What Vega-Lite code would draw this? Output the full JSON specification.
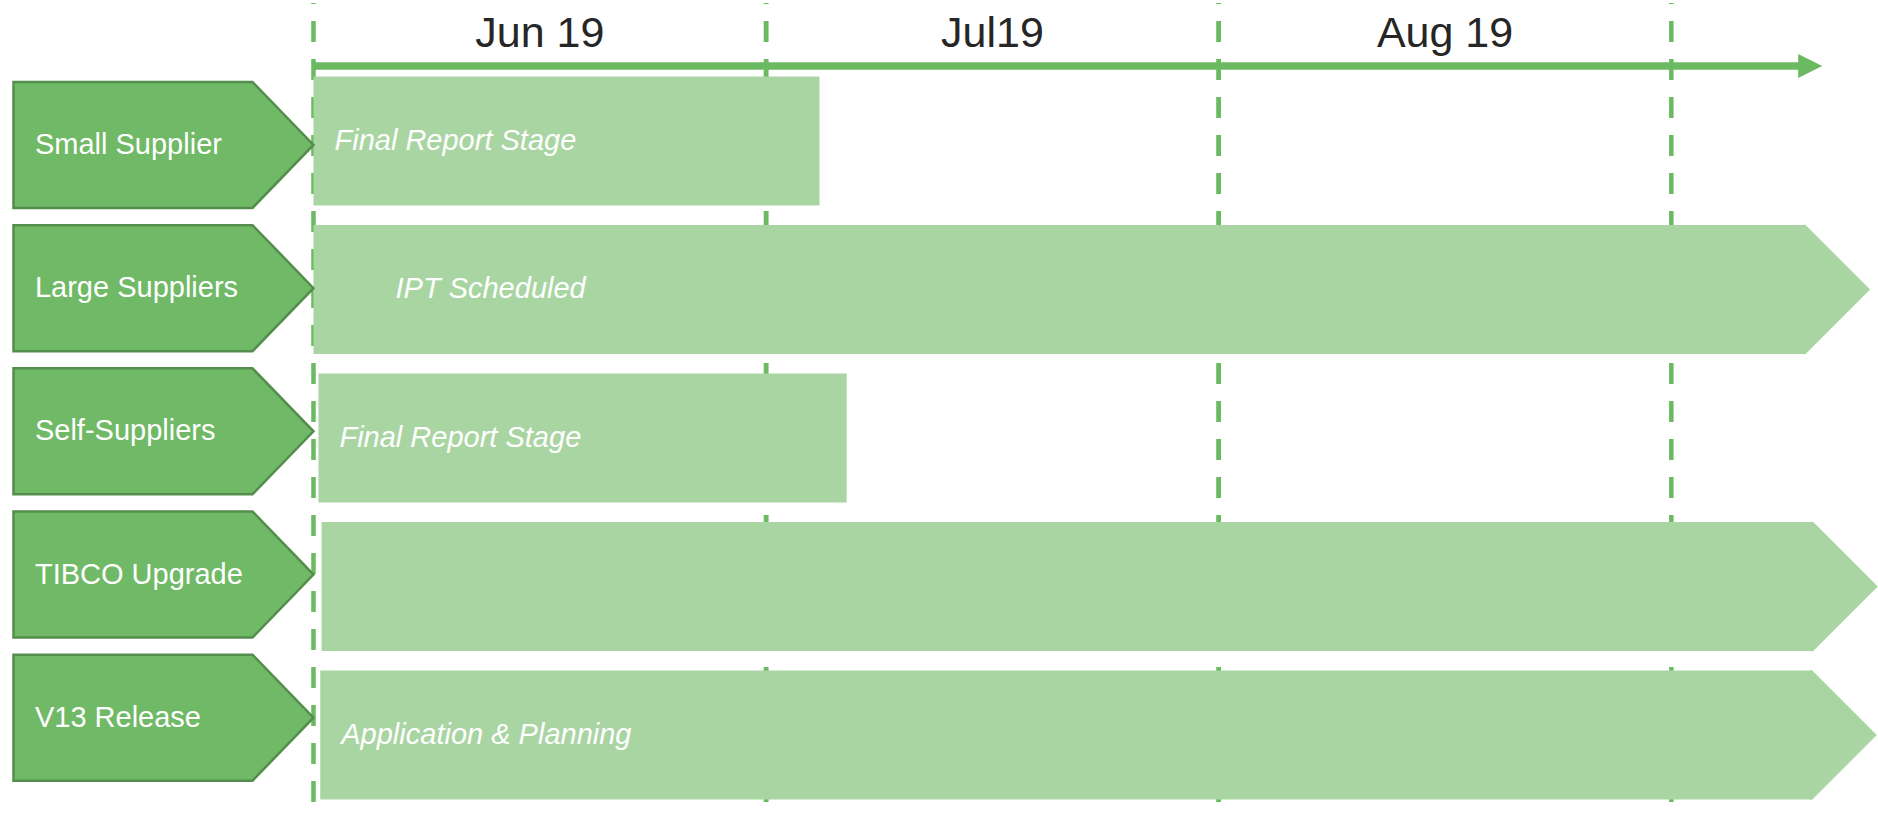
{
  "$schema": "https://vega.github.io/schema/vega-lite/v6.json",
  "width": 1878,
  "height": 815,
  "autosize": {"type": "fit", "contains": "padding"},
  "padding": 0,
  "background": "white",
  "config": {"view": {"stroke": null}, "font": "Liberation Sans"},
  "datasets": {
    "tasks": [
      {"task": "Small Supplier", "start": 0, "end": 1.118, "label": "Final Report Stage", "ongoing": false},
      {"task": "Large Suppliers", "start": 0, "end": 3.296, "label": "IPT Scheduled", "ongoing": true},
      {"task": "Self-Suppliers", "start": 0.011, "end": 1.178, "label": "Final Report Stage", "ongoing": false},
      {"task": "TIBCO Upgrade", "start": 0.018, "end": 3.313, "label": "", "ongoing": true},
      {"task": "V13 Release", "start": 0.015, "end": 3.311, "label": "Application & Planning", "ongoing": true}
    ],
    "months": [
      {"month": "Jun 19", "start": 0, "end": 1},
      {"month": "Jul19", "start": 1, "end": 2},
      {"month": "Aug 19", "start": 2, "end": 3}
    ],
    "timeline": [
      {"from": 0, "to": 3.3155}
    ]
  },
  "resolve": {"scale": {"y": "independent"}},
  "layer": [
    {
      "data": {"name": "months"},
      "mark": {"type": "rule", "stroke": "#6BBA62", "strokeWidth": 4.5, "strokeDash": [21, 17], "strokeDashOffset": 20},
      "encoding": {
        "x": {"field": "start", "type": "quantitative", "scale": {"domain": [-0.6926, 3.45], "nice": false, "zero": false}, "axis": null}
      }
    },
    {
      "data": {"name": "months"},
      "mark": {"type": "rule", "stroke": "#6BBA62", "strokeWidth": 4.5, "strokeDash": [21, 17], "strokeDashOffset": 20},
      "encoding": {
        "x": {"field": "end", "type": "quantitative", "scale": {"domain": [-0.6926, 3.45], "nice": false, "zero": false}, "axis": null}
      }
    },
    {
      "layer": [
        {
          "data": {"name": "months"},
          "mark": {"type": "text", "fontSize": 43, "fill": "#262626", "align": "center", "baseline": "middle", "dx": {"expr": "(scale('x', datum.end) - scale('x', datum.start)) / 2"}},
          "encoding": {
            "x": {"field": "start", "type": "quantitative", "scale": {"domain": [-0.6926, 3.45], "nice": false, "zero": false}, "axis": null},
            "y": {"datum": "Small Supplier", "type": "nominal", "bandPosition": -0.328, "axis": null},
            "text": {"field": "month"}
          }
        },
        {
          "data": {"name": "timeline"},
          "mark": {"type": "rule", "stroke": "#6BBA62", "strokeWidth": 7.5, "strokeCap": "butt"},
          "encoding": {
            "x": {"field": "from", "type": "quantitative", "scale": {"domain": [-0.6926, 3.45], "nice": false, "zero": false}, "axis": null},
            "x2": {"field": "to"},
            "y": {"datum": "Small Supplier", "type": "nominal", "bandPosition": -0.081, "axis": null}
          }
        },
        {
          "data": {"name": "timeline"},
          "mark": {"type": "point", "shape": "M-1.33,-1L0.67,0L-1.33,1Z", "size": 576, "filled": true, "fill": "#6BBA62", "strokeWidth": 0, "opacity": 1},
          "encoding": {
            "x": {"field": "to", "type": "quantitative", "scale": {"domain": [-0.6926, 3.45], "nice": false, "zero": false}, "axis": null},
            "y": {"datum": "Small Supplier", "type": "nominal", "bandPosition": -0.081, "axis": null}
          }
        },
        {
          "data": {"name": "tasks"},
          "mark": {"type": "bar", "fill": "#A9D5A3", "strokeWidth": 0},
          "encoding": {
            "x": {"field": "start", "type": "quantitative", "scale": {"domain": [-0.6926, 3.45], "nice": false, "zero": false}, "axis": null},
            "x2": {"field": "end"},
            "y": {"field": "task", "type": "nominal", "scale": {"type": "band", "domain": ["Small Supplier", "Large Suppliers", "Self-Suppliers", "TIBCO Upgrade", "V13 Release"], "paddingInner": 0.131, "paddingOuter": 0.2895, "align": 0.8545, "round": false}, "axis": null}
          }
        },
        {
          "data": {"name": "tasks"},
          "transform": [{"filter": "datum.ongoing"}],
          "mark": {"type": "point", "shape": "M-0.03,-1L0,-1L1,0L0,1L-0.03,1Z", "size": 16770, "filled": true, "fill": "#A9D5A3", "strokeWidth": 0, "opacity": 1},
          "encoding": {
            "x": {"field": "end", "type": "quantitative", "scale": {"domain": [-0.6926, 3.45], "nice": false, "zero": false}, "axis": null},
            "y": {"field": "task", "type": "nominal", "axis": null}
          }
        },
        {
          "data": {"name": "tasks"},
          "mark": {"type": "text", "fontSize": 29, "fontStyle": "italic", "fill": "white", "align": "left", "baseline": "middle", "dx": {"expr": "datum.task === 'Large Suppliers' ? 82 : 21"}},
          "encoding": {
            "x": {"field": "start", "type": "quantitative", "scale": {"domain": [-0.6926, 3.45], "nice": false, "zero": false}, "axis": null},
            "y": {"field": "task", "type": "nominal", "axis": null},
            "text": {"field": "label"}
          }
        }
      ]
    },
    {
      "data": {"name": "tasks"},
      "encoding": {
        "y": {"field": "task", "type": "nominal", "scale": {"type": "band", "domain": ["Small Supplier", "Large Suppliers", "Self-Suppliers", "TIBCO Upgrade", "V13 Release"], "paddingInner": 0, "paddingOuter": 0.325, "align": 0.756, "round": false}, "axis": null}
      },
      "layer": [
        {
          "mark": {"type": "point", "shape": "M-4.762,-1L-0.968,-1L0,0L-0.968,1L-4.762,1Z", "size": 15876, "filled": true, "fill": "#70B966", "stroke": "#548E4C", "strokeWidth": 2.5, "opacity": 1},
          "encoding": {
            "x": {"datum": 0, "type": "quantitative", "scale": {"domain": [-0.6926, 3.45], "nice": false, "zero": false}, "axis": null}
          }
        },
        {
          "mark": {"type": "text", "fontSize": 29, "fill": "white", "align": "left", "baseline": "middle"},
          "encoding": {
            "x": {"datum": -0.6154, "type": "quantitative", "scale": {"domain": [-0.6926, 3.45], "nice": false, "zero": false}, "axis": null},
            "text": {"field": "task"}
          }
        }
      ]
    }
  ]
}
